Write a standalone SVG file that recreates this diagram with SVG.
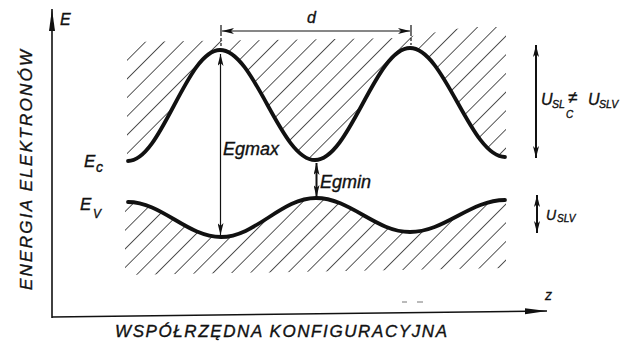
<svg xmlns="http://www.w3.org/2000/svg" width="626" height="347" viewBox="0 0 626 347">
<style>
  text { font-family: "Liberation Sans", Arial, sans-serif; font-style: italic; fill: #111; stroke: #111; stroke-width: 0.35; }
  .ax { stroke: #111; stroke-width: 1.6; fill: none; }
  .band { stroke: #111; stroke-width: 3.8; fill: none; stroke-linecap: round; stroke-linejoin: round; }
  .thin { stroke: #111; stroke-width: 1.2; fill: none; }
  .mid { stroke: #111; stroke-width: 2; fill: none; }
  .hatch { stroke: #111; stroke-width: 1.4; }
</style>
<defs>
  <pattern id="hp" patternUnits="userSpaceOnUse" width="13.2" height="13.2" patternTransform="rotate(45)">
    <line x1="0" y1="-1" x2="0" y2="15" class="hatch"/>
  </pattern>
  <clipPath id="clipC">
    <path d="M127,42 L400,38 L468,27 L506,27 L506,157 L505,157 C470.4,157 444.6,48 410,48 C375.4,48 349.6,160 315,160 C280.4,160 254.6,50 220,50 C186.5,50 161.5,161 128,161 L127,161 Z"/>
  </clipPath>
  <clipPath id="clipV">
    <path d="M125,202 L128,202 C161.9,202 187.1,237 221,237 C255.6,237 281.4,198 316,198 C350.2,198 375.8,232 410,232 C444.6,232 470.4,200 505,200 L506,200 L506,268 L125,275 Z"/>
  </clipPath>
  <marker id="arr" viewBox="0 0 12 6" refX="12" refY="3" markerWidth="12" markerHeight="6" markerUnits="userSpaceOnUse" orient="auto-start-reverse">
    <path d="M0,0 L12,3 L0,6 L3,3 Z" fill="#111"/>
  </marker>
  <marker id="axarr" viewBox="0 0 22 7" refX="22" refY="3.5" markerWidth="22" markerHeight="7" markerUnits="userSpaceOnUse" orient="auto">
    <path d="M0,0.5 L22,3.5 L0,6.5 Z" fill="#111"/>
  </marker>
</defs>
<rect width="626" height="347" fill="#fff"/>

<g id="axes">
  <line x1="52" y1="318" x2="52" y2="9" class="ax" marker-end="url(#axarr)"/>
  <line x1="52" y1="317" x2="547" y2="311" class="ax" marker-end="url(#axarr)"/>
  <text x="60" y="25" font-size="16">E</text>
  <text x="545" y="300" font-size="14">z</text>
  <text x="32" y="290" font-size="17" textLength="240" lengthAdjust="spacing" transform="rotate(-90 32 290)">ENERGIA ELEKTRONÓW</text>
  <text x="115" y="337" font-size="17" textLength="332" lengthAdjust="spacing">WSPÓŁRZĘDNA KONFIGURACYJNA</text>
  <line x1="402" y1="302" x2="407" y2="302" stroke="#777" stroke-width="1"/>
  <line x1="417" y1="302" x2="423" y2="302" stroke="#777" stroke-width="1"/>
</g>

<g id="conduction-band">
  <rect x="120" y="20" width="390" height="150" fill="url(#hp)" clip-path="url(#clipC)"/>
  <path d="M128,161 C161.5,161 186.5,50 220,50 C254.6,50 280.4,160 315,160 C349.6,160 375.4,48 410,48 C444.6,48 470.4,157 505,157" class="band"/>
  <text x="84" y="167" font-size="17">E</text>
  <text x="96" y="172" font-size="14">c</text>
</g>

<g id="valence-band">
  <rect x="120" y="190" width="390" height="90" fill="url(#hp)" clip-path="url(#clipV)"/>
  <path d="M128,202 C161.9,202 187.1,237 221,237 C255.6,237 281.4,198 316,198 C350.2,198 375.8,232 410,232 C444.6,232 470.4,200 505,200" class="band" stroke-width="3.4"/>
  <text x="80" y="210" font-size="17">E</text>
  <text x="93" y="218" font-size="12">V</text>
</g>

<g id="connectors">
  <line x1="221" y1="25" x2="221" y2="36" class="thin"/>
  <line x1="411" y1="25" x2="411" y2="36" class="thin"/>
  <line x1="221" y1="38" x2="221" y2="47" class="thin" stroke-dasharray="3,2"/>
  <line x1="411" y1="38" x2="411" y2="45" class="thin" stroke-dasharray="3,2"/>
  <line x1="222" y1="31" x2="410" y2="31" class="thin" marker-start="url(#arr)" marker-end="url(#arr)"/>
  <line x1="220.5" y1="54" x2="220.5" y2="235" class="thin" marker-start="url(#arr)" marker-end="url(#arr)"/>
  <line x1="316.5" y1="163" x2="316.5" y2="197" class="mid" marker-start="url(#arr)" marker-end="url(#arr)"/>
  <line x1="536" y1="45" x2="536" y2="158" class="mid" marker-start="url(#arr)" marker-end="url(#arr)"/>
  <line x1="537" y1="195" x2="537" y2="233" class="mid" stroke-width="2.4" marker-start="url(#arr)" marker-end="url(#arr)"/>
</g>

<g id="labels">
  <text x="307" y="23" font-size="16">d</text>
  <text x="223" y="155" font-size="18">Egmax</text>
  <text x="320" y="188" font-size="18">Egmin</text>
  <g id="label-uslc">
    <text x="541" y="105" font-size="16">U</text>
    <text x="552" y="108" font-size="10.5">SL</text>
    <text x="566" y="118" font-size="10">C</text>
    <text x="568" y="103" font-size="17">≠</text>
    <text x="588" y="105" font-size="16">U</text>
    <text x="599" y="108" font-size="10.5">SLV</text>
  </g>
  <g id="label-uslv">
    <text x="546" y="220" font-size="14">U</text>
    <text x="557" y="222" font-size="10">SLV</text>
  </g>
</g>
</svg>
